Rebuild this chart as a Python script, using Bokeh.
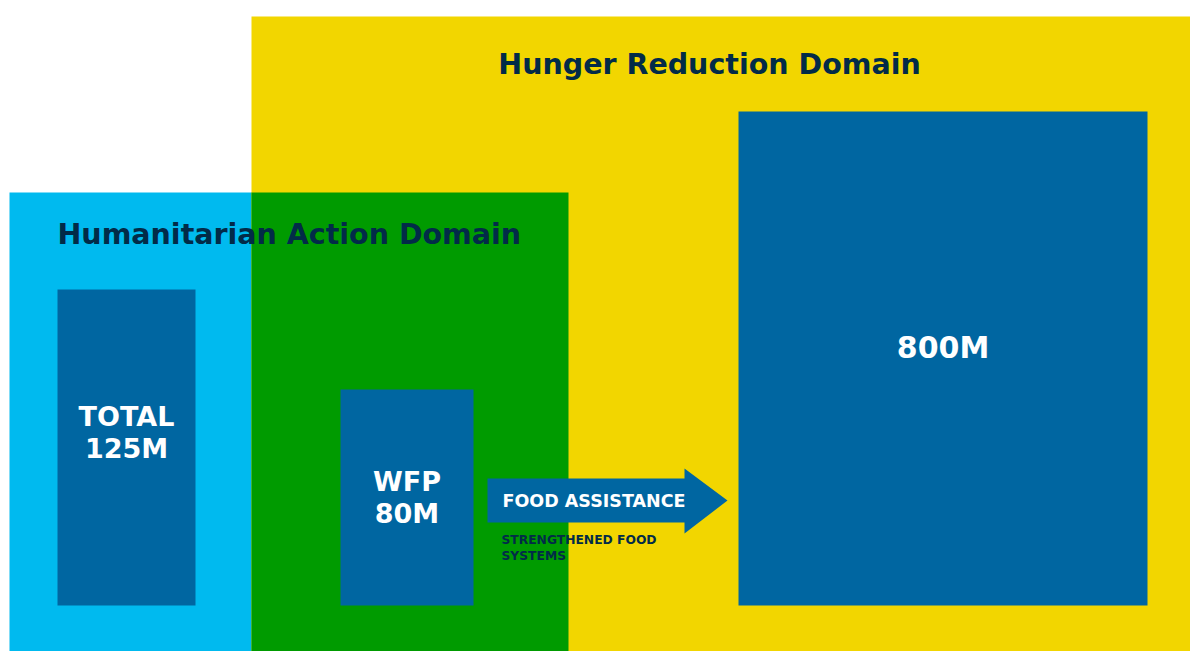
from bokeh.plotting import figure
from bokeh.models import Range1d
from bokeh.core.properties import value
from bokeh.embed import file_html
from bokeh.resources import INLINE

# Domains (diagram space, pixels from top-left of plot)
domain_names = ["Humanitarian Action Domain", "Hunger Reduction Domain", "Overlap"]
domain_left = [9, 251, 251]
domain_right = [568, 1190, 568]
domain_top = [192, 16, 192]
domain_bottom = [651, 651, 651]
domain_colors = ["#00BAEF", "#F2D600", "#009B00"]

# Population boxes
box_labels = ["TOTAL\n125M", "WFP\n80M", "800M"]
box_values = [125, 80, 800]
box_left = [57, 340, 738]
box_right = [195, 473, 1147]
box_top = [289, 389, 111]
box_bottom = [605, 605, 605]
box_color = "#0066A1"

# Arrow
arrow_x = [487, 684, 684, 727, 684, 684, 487]
arrow_y = [478, 478, 468, 500, 533, 522, 522]

TEXT = "#022B48"
FONT = value("DejaVu Sans")

W, H = 1190, 651
p = figure(width=W, height=H, output_backend="svg", toolbar_location=None,
           x_range=Range1d(0, W), y_range=Range1d(H, 0), min_border=0)
p.axis.visible = False
p.grid.visible = False
p.outline_line_color = None
p.background_fill_color = "white"
p.border_fill_color = "white"

p.quad(left=domain_left, right=domain_right, top=domain_top, bottom=domain_bottom,
       fill_color=domain_colors, line_color=None)
p.quad(left=box_left, right=box_right, top=box_top, bottom=box_bottom,
       fill_color=box_color, line_color=None)
p.patch(arrow_x, arrow_y, fill_color=box_color, line_color=None)

# Domain titles
p.text(x=[709], y=[64], text=["Hunger Reduction Domain"], text_font=FONT,
       text_font_style="bold", text_font_size="28.5px", text_color=TEXT,
       text_align="center", text_baseline="middle")
p.text(x=[57], y=[234], text=["Humanitarian Action Domain"], text_font=FONT,
       text_font_style="bold", text_font_size="28.5px", text_color=TEXT,
       text_align="left", text_baseline="middle")

# Box labels
cx = [(l + r) / 2 for l, r in zip(box_left, box_right)]
p.text(x=[cx[0], cx[0]], y=[416, 448], text=["TOTAL", "125M"], text_font=FONT,
       text_font_style="bold", text_font_size="27px", text_color="white",
       text_align="center", text_baseline="middle")
p.text(x=[cx[1], cx[1]], y=[481, 513], text=["WFP", "80M"], text_font=FONT,
       text_font_style="bold", text_font_size="27px", text_color="white",
       text_align="center", text_baseline="middle")
p.text(x=[cx[2]], y=[347], text=["800M"], text_font=FONT,
       text_font_style="bold", text_font_size="30px", text_color="white",
       text_align="center", text_baseline="middle")

# Arrow texts
p.text(x=[502], y=[500], text=["FOOD ASSISTANCE"], text_font=FONT,
       text_font_style="bold", text_font_size="17.5px", text_color="white",
       text_align="left", text_baseline="middle")
p.text(x=[501, 501], y=[539, 555], text=["STRENGTHENED FOOD", "SYSTEMS"], text_font=FONT,
       text_font_style="bold", text_font_size="12.3px", text_color=TEXT,
       text_align="left", text_baseline="middle")

open("out.html", "w").write(file_html(p, INLINE))
